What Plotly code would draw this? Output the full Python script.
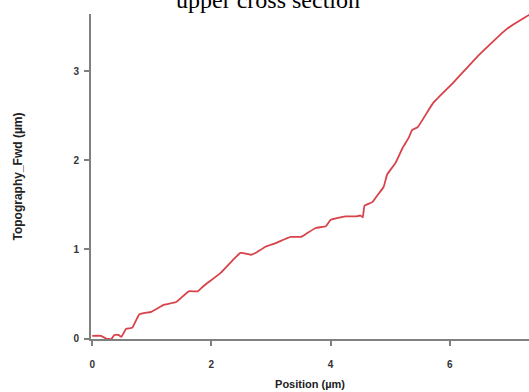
import plotly.graph_objects as go

position_um = [0.00, 0.15, 0.23, 0.32, 0.37, 0.44, 0.49, 0.57, 0.67, 0.79, 0.99, 1.21, 1.41, 1.62, 1.77, 1.87,
               2.16, 2.36, 2.49, 2.66, 2.74, 2.91, 3.08, 3.33, 3.50, 3.58, 3.75, 3.92, 4.00, 4.25, 4.42, 4.50,
               4.54, 4.57, 4.70, 4.79, 4.89, 4.95, 5.09, 5.21, 5.31, 5.37, 5.46, 5.72, 6.06, 6.46, 6.90, 7.06,
               7.33, 7.40]
topography_um = [0.03, 0.03, 0.00, -0.005, 0.04, 0.04, 0.02, 0.11, 0.12, 0.27, 0.30, 0.38, 0.41, 0.53, 0.53, 0.59,
                 0.74, 0.88, 0.96, 0.94, 0.96, 1.03, 1.07, 1.14, 1.14, 1.17, 1.24, 1.26, 1.33, 1.37, 1.37, 1.38,
                 1.36, 1.49, 1.53, 1.61, 1.70, 1.84, 1.97, 2.14, 2.25, 2.34, 2.37, 2.64, 2.87, 3.16, 3.44, 3.52,
                 3.63, 3.66]

x_ticks = [0, 2, 4, 6]
y_ticks = [0, 1, 2, 3]

fig = go.Figure()
fig.add_trace(go.Scatter(x=position_um, y=topography_um, mode="lines",
                         line=dict(color="#d8424b", width=1.8, shape="spline", smoothing=0.4),
                         hoverinfo="skip"))

axis_font = dict(family="Liberation Sans, Arial, sans-serif", size=10, color="#333333", weight="bold")
fig.update_layout(
    width=529, height=392,
    margin=dict(l=91, r=0, t=14, b=53),
    paper_bgcolor="white", plot_bgcolor="white",
    showlegend=False,
    title=dict(text="upper cross section", x=268/529, xanchor="center", xref="container",
               y=1.0, yanchor="middle", yref="container",
               font=dict(family="Liberation Serif, Times New Roman, serif", size=24, color="black")),
)
fig.update_xaxes(range=[-0.02, 7.33], tickvals=x_ticks, ticktext=[str(v) for v in x_ticks],
                 showline=True, linecolor="#808080", linewidth=2, ticks="outside", ticklen=5,
                 tickwidth=2, tickcolor="#808080", showgrid=False, zeroline=False,
                 tickfont=axis_font, ticklabelstandoff=10,
                 title=dict(text="Position (µm)", standoff=11,
                            font=dict(family="Liberation Sans, Arial, sans-serif", size=11, color="#222222", weight="bold")))
fig.update_yaxes(range=[-0.005, 3.64], tickvals=y_ticks, ticktext=[str(v) for v in y_ticks],
                 showline=True, linecolor="#808080", linewidth=2, ticks="outside", ticklen=5,
                 tickwidth=2, tickcolor="#808080", showgrid=False, zeroline=False,
                 tickfont=axis_font, ticklabelstandoff=3,
                 title=dict(text="Topography_Fwd (µm)", standoff=48,
                            font=dict(family="Liberation Sans, Arial, sans-serif", size=12, color="#222222", weight="bold")))

fig.write_html("out.html")
